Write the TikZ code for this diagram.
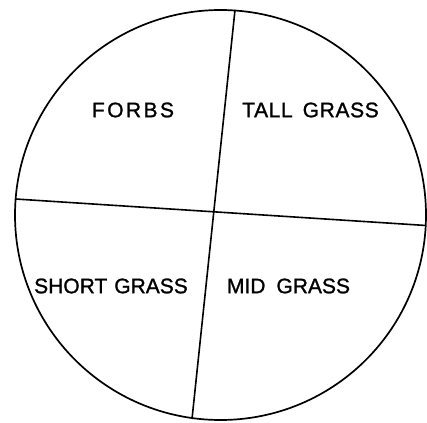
\documentclass[tikz,border=0pt]{standalone}
\usepackage{fontspec}
\setmainfont{Liberation Sans}
\tikzset{
  outline/.style={line width=1.7pt, black},
  divider/.style={line width=1.6pt, black},
  lbl/.style={font=\fontsize{21}{25}\selectfont, inner sep=0pt, anchor=center}
}
\begin{document}
\begin{tikzpicture}[x=1pt,y=-1pt]
\useasboundingbox (0,0) rectangle (427,422);
\coordinate (ctr) at (220.5,215);
\draw[outline] (ctr) ellipse [x radius=205.5, y radius=205];
\coordinate (top) at (235,10);
\coordinate (bot) at (192,419);
\coordinate (lft) at (15.5,199);
\coordinate (rgt) at (426,225.5);
\draw[divider] (top) -- (bot);
\draw[divider] (lft) -- (rgt);
\node[lbl] (forbs) at (133,110) {\addfontfeature{LetterSpace=11.5,FakeBold=1.2}FORBS};
\node[lbl] (tall) at (310.5,110) {\addfontfeature{LetterSpace=3,FakeBold=1.2}TALL\hspace{10pt}GRASS};
\node[lbl] (short) at (111,286) {\addfontfeature{LetterSpace=0,FakeBold=1.2}SHORT\hspace{7pt}GRASS};
\node[lbl] (mid) at (288.5,286) {\addfontfeature{LetterSpace=0,FakeBold=1.2}MID\hspace{11pt}GRASS};
\end{tikzpicture}
\end{document}
